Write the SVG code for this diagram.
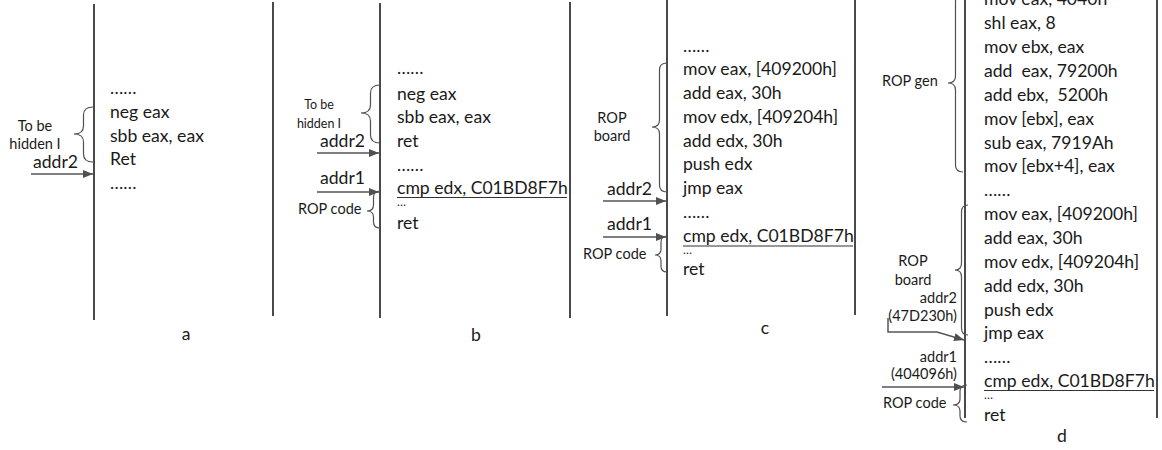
<svg xmlns="http://www.w3.org/2000/svg" width="1162" height="450" viewBox="0 0 1162 450">
<defs>
<marker id="ah" markerUnits="userSpaceOnUse" markerWidth="11" markerHeight="9" refX="10" refY="4" orient="auto">
<path d="M0,0 L10,4 L0,8 z" fill="#505050"/>
</marker>
<style>
.col{stroke:#4a4a4a;stroke-width:2;fill:none}
.code{font-family:Lato,"Liberation Sans",sans-serif;font-size:17.6px;fill:#1a1a1a}
.sm{font-family:Lato,"Liberation Sans",sans-serif;font-size:14.5px;fill:#1a1a1a}
.smb{font-family:Lato,"Liberation Sans",sans-serif;font-size:12.5px;fill:#1a1a1a}
.tiny{font-family:Lato,"Liberation Sans",sans-serif;font-size:12px;fill:#1a1a1a}
.brace{stroke:#505050;stroke-width:1.2;fill:none}
.ul{stroke:#333;stroke-width:1.2}
.arr{stroke:#555;stroke-width:1.5;fill:none}
.mid{text-anchor:middle}
.end{text-anchor:end}
</style>
</defs>
<rect width="1162" height="450" fill="#ffffff"/>

<g id="columns">
<line class="col" x1="94" y1="4" x2="94" y2="320"/>
<line class="col" x1="273" y1="2" x2="273" y2="316"/>
<line class="col" x1="380" y1="3" x2="380" y2="318"/>
<line class="col" x1="570" y1="2" x2="570" y2="318"/>
<line class="col" x1="667" y1="0" x2="667" y2="316"/>
<line class="col" x1="855" y1="0" x2="855" y2="315"/>
<line class="col" x1="965" y1="0" x2="965" y2="418"/>
<line class="col" x1="1157" y1="0" x2="1157" y2="418"/>
</g>

<g id="panel-a-code" class="code">
<text x="110" y="94">……</text>
<text x="110" y="118">neg eax</text>
<text x="110" y="142">sbb eax, eax</text>
<text x="110" y="165">Ret</text>
<text x="110" y="189">……</text>
</g>
<g id="panel-a-hidden">
<path class="brace" d="M93,107 Q83.5,107 83.5,115 L83.5,126 Q83.5,134 74,134 Q83.5,134 83.5,142 L83.5,154 Q83.5,162 93,162"/>
<text class="sm mid" x="35" y="131">To be</text>
<text class="sm mid" x="35" y="149">hidden I</text>
</g>
<g id="panel-a-addr2"><text class="code" x="33" y="168">addr2</text></g>
<g id="label-a"><text class="code mid" x="186" y="340">a</text></g>

<g id="panel-b-code" class="code">
<text x="397" y="74">……</text>
<text x="397" y="100">neg eax</text>
<text x="397" y="123">sbb eax, eax</text>
<text x="397" y="147">ret</text>
<text x="397" y="171">……</text>
<text x="397" y="194">cmp edx, C01BD8F7h</text>
<text class="tiny" x="397" y="206">…</text>
<text x="397" y="229">ret</text>
</g>
<line class="ul" x1="397" y1="197.5" x2="567" y2="197.5"/>
<g id="panel-b-hidden">
<path class="brace" d="M380,85 Q370.5,85 370.5,93 L370.5,105 Q370.5,113 361,113 Q370.5,113 370.5,121 L370.5,135 Q370.5,143 380,143"/>
<text class="smb mid" x="319" y="109">To be</text>
<text class="smb mid" x="319" y="128">hidden I</text>
</g>
<g id="panel-b-rop">
<path class="brace" d="M380,191 Q373.5,191 373.5,197 L373.5,205 Q373.5,211 367,211 Q373.5,211 373.5,217 L373.5,222 Q373.5,228 380,228"/>
<text class="sm" x="298" y="214">ROP code</text>
</g>
<g id="panel-b-addr"><text class="code" x="320" y="147">addr2</text><text class="code" x="320" y="184">addr1</text></g>
<g id="label-b"><text class="code mid" x="476" y="341">b</text></g>

<g id="panel-c-code" class="code">
<text x="683" y="52">……</text>
<text x="683" y="75">mov eax, [409200h]</text>
<text x="683" y="99">add eax, 30h</text>
<text x="683" y="123">mov edx, [409204h]</text>
<text x="683" y="147">add edx, 30h</text>
<text x="683" y="170">push edx</text>
<text x="683" y="194">jmp eax</text>
<text x="683" y="218">……</text>
<text x="683" y="242">cmp edx, C01BD8F7h</text>
<text class="tiny" x="683" y="254">…</text>
<text x="683" y="275">ret</text>
</g>
<line class="ul" x1="683" y1="246" x2="853" y2="246"/>
<g id="panel-c-board">
<path class="brace" d="M667,63 Q659.5,63 659.5,70 L659.5,120 Q659.5,127 652,127 Q659.5,127 659.5,134 L659.5,185 Q659.5,192 667,192"/>
<text class="sm mid" x="612" y="123">ROP</text>
<text class="sm mid" x="612" y="141">board</text>
</g>
<g id="panel-c-rop">
<path class="brace" d="M667,236 Q661,236 661,242 L661,249 Q661,255 655,255 Q661,255 661,261 L661,266 Q661,272 667,272"/>
<text class="sm" x="583" y="259">ROP code</text>
</g>
<g id="panel-c-addr"><text class="code" x="607" y="195">addr2</text><text class="code" x="607" y="230">addr1</text></g>
<g id="label-c"><text class="code mid" x="765" y="334">c</text></g>

<g id="panel-d-code" class="code">
<text x="984" y="5">mov eax, 4040h</text>
<text x="984" y="29">shl eax, 8</text>
<text x="984" y="53">mov ebx, eax</text>
<text x="984" y="77" xml:space="preserve">add  eax, 79200h</text>
<text x="984" y="101" xml:space="preserve">add ebx,  5200h</text>
<text x="984" y="125">mov [ebx], eax</text>
<text x="984" y="149">sub eax, 7919Ah</text>
<text x="984" y="172">mov [ebx+4], eax</text>
<text x="984" y="196">……</text>
<text x="984" y="220">mov eax, [409200h]</text>
<text x="984" y="244">add eax, 30h</text>
<text x="984" y="268">mov edx, [409204h]</text>
<text x="984" y="292">add edx, 30h</text>
<text x="984" y="316">push edx</text>
<text x="984" y="339">jmp eax</text>
<text x="984" y="363">……</text>
<text x="984" y="387">cmp edx, C01BD8F7h</text>
<text class="tiny" x="984" y="399">…</text>
<text x="984" y="421">ret</text>
</g>
<line class="ul" x1="984" y1="390.5" x2="1154" y2="390.5"/>
<g id="panel-d-gen">
<path class="brace" d="M963,-5 Q955.5,-5 955.5,2 L955.5,76 Q955.5,83 948,83 Q955.5,83 955.5,90 L955.5,165 Q955.5,172 963,172"/>
<text class="sm" x="882" y="86">ROP gen</text>
</g>
<g id="panel-d-board">
<path class="brace" d="M968,205 Q961.5,205 961.5,212 L961.5,263 Q961.5,270 955,270 Q961.5,270 961.5,277 L961.5,328 Q961.5,335 968,335"/>
<text class="sm mid" x="913" y="266">ROP</text>
<text class="sm mid" x="913" y="285">board</text>
</g>
<g id="panel-d-rop">
<path class="brace" d="M967,385 Q960,385 960,391 L960,399 Q960,405 953,405 Q960,405 960,411 L960,416 Q960,422 967,422"/>
<text class="sm" x="883" y="408">ROP code</text>
</g>
<g id="panel-d-addr">
<text class="sm end" x="957" y="303">addr2</text>
<text class="sm end" x="957" y="321">(47D230h)</text>
<text class="sm end" x="957" y="362">addr1</text>
<text class="sm end" x="957" y="379">(404096h)</text>
</g>
<g id="label-d"><text class="code mid" x="1062" y="442">d</text></g>

<g id="connectors">
<line class="arr" x1="31" y1="174" x2="93" y2="174" marker-end="url(#ah)"/>
<line class="arr" x1="317" y1="153" x2="379" y2="153" marker-end="url(#ah)"/>
<line class="arr" x1="317" y1="192" x2="379" y2="192" marker-end="url(#ah)"/>
<line class="arr" x1="603" y1="201" x2="666" y2="201" marker-end="url(#ah)"/>
<line class="arr" x1="603" y1="237" x2="666" y2="237" marker-end="url(#ah)"/>
<polyline class="arr" points="888,318 888,332 937,332 964,340" marker-end="url(#ah)"/>
<line class="arr" x1="882" y1="387" x2="964" y2="387" marker-end="url(#ah)"/>
</g>
</svg>
